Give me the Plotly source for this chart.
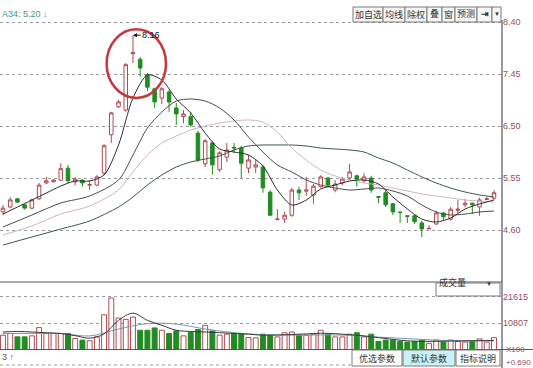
import plotly.graph_objects as go

W, H = 533, 368

# ---------------- data ----------------
opens = [4.93, 5.02, 5.17, 5.06, 5.00, 5.17, 5.46, 5.48, 5.51, 5.73, 5.48, 5.51, 5.42, 5.42, 5.64,
         6.34, 6.85, 6.79, 7.82, 7.72, 7.43, 7.18, 7.01, 7.12, 6.83, 6.67, 6.67, 6.37, 5.81, 6.19,
         5.70, 5.93, 6.11, 6.10, 5.73, 5.75, 5.75, 5.29, 4.79, 4.80, 4.87, 5.33, 5.31, 5.24, 5.39,
         5.55, 5.33, 5.46, 5.55, 5.59, 5.50, 5.55, 5.21, 5.28, 5.08, 4.93, 4.86, 4.86, 4.73, 4.62,
         4.71, 4.91, 4.80, 4.96, 5.06, 5.09, 5.02, 5.16, 5.18]
highs = [5.06, 5.20, 5.18, 5.08, 5.17, 5.46, 5.57, 5.53, 5.82, 5.79, 5.57, 5.53, 5.51, 5.60, 6.17,
         6.76, 6.98, 7.65, 8.16, 7.76, 7.47, 7.20, 7.21, 7.16, 6.92, 6.79, 6.76, 6.41, 6.26, 6.23,
         6.04, 6.19, 6.19, 6.14, 5.97, 5.88, 5.79, 5.33, 4.98, 4.93, 5.37, 5.39, 5.57, 5.44, 5.60,
         5.57, 5.51, 5.57, 5.81, 5.61, 5.64, 5.59, 5.21, 5.33, 5.09, 4.93, 4.86, 4.89, 4.77, 4.69,
         4.95, 4.93, 5.02, 5.15, 5.17, 5.10, 5.19, 5.20, 5.33]
lows = [4.87, 5.00, 5.09, 4.97, 4.98, 5.15, 5.44, 5.47, 5.50, 5.46, 5.42, 5.39, 5.33, 5.40, 5.60,
        6.19, 6.83, 6.76, 7.65, 7.40, 7.14, 6.83, 6.90, 6.76, 6.52, 6.55, 6.48, 5.84, 5.75, 5.61,
        5.66, 5.84, 6.01, 5.55, 5.64, 5.64, 5.28, 4.86, 4.78, 4.73, 4.84, 5.15, 5.22, 5.08, 5.37,
        5.39, 5.29, 5.42, 5.51, 5.39, 5.46, 5.28, 5.09, 5.02, 4.87, 4.73, 4.73, 4.71, 4.47, 4.62,
        4.69, 4.78, 4.77, 4.91, 5.02, 4.89, 4.86, 5.15, 5.15]
closes = [5.00, 5.15, 5.11, 5.00, 5.15, 5.42, 5.50, 5.51, 5.72, 5.50, 5.53, 5.46, 5.43, 5.57, 6.14,
          6.74, 6.94, 7.62, 7.84, 7.56, 7.21, 6.94, 7.18, 6.94, 6.72, 6.72, 6.52, 5.88, 6.23, 5.79,
          6.01, 6.06, 6.10, 5.82, 5.88, 5.79, 5.37, 4.87, 4.80, 4.87, 5.33, 5.28, 5.33, 5.40, 5.57,
          5.42, 5.44, 5.53, 5.66, 5.53, 5.57, 5.33, 5.20, 5.06, 4.93, 4.92, 4.85, 4.75, 4.62, 4.63,
          4.91, 4.84, 4.98, 4.98, 5.09, 5.06, 5.15, 5.17, 5.28]
volumes = [6000, 6670, 5330, 5330, 5730, 9070, 6670, 6670, 6670, 6670, 4670, 4000, 3730, 5330, 14270,
           21070, 12930, 12400, 13330, 8000, 8000, 8930, 8000, 6670, 7730, 5730, 7070, 8270, 10000, 7730,
           6000, 6400, 6670, 6670, 5070, 4930, 6400, 6000, 5300, 7000, 7300, 6000, 6000, 6400, 8000,
           6400, 5300, 5300, 6400, 7000, 5300, 6400, 3500, 4000, 4000, 3500, 3200, 3500, 4000, 2700,
           4000, 3200, 4000, 3500, 3200, 3500, 4500, 3200, 5000]

ma5_idx = list(range(0, 69, 2))
ma5 = [4.892, 5.020, 5.148, 5.276, 5.404, 5.495, 5.495, 5.605, 6.153, 7.012, 7.432, 7.340,
       6.993, 6.738, 6.372, 6.080, 6.025, 5.970, 5.769, 5.331, 5.057, 5.148, 5.349, 5.422,
       5.495, 5.514, 5.441, 5.203, 4.984, 4.801, 4.746, 4.819, 4.984, 5.075, 5.148]
ma_idx = [0, 4, 8, 12] + list(range(16, 69, 2))
ma10 = [4.655, 4.874, 5.093, 5.221, 5.514, 5.970, 6.464, 6.756, 6.957, 6.993, 6.957, 6.829,
        6.610, 6.299, 6.025, 5.788, 5.660, 5.514, 5.422, 5.367, 5.331, 5.349, 5.367, 5.313,
        5.221, 5.057, 4.929, 4.874, 4.892, 4.929, 4.947]
ma20 = [4.509, 4.673, 4.893, 5.039, 5.331, 5.660, 5.970, 6.190, 6.317, 6.427, 6.500, 6.555,
        6.591, 6.610, 6.573, 6.391, 6.098, 5.879, 5.696, 5.587, 5.514, 5.459, 5.422, 5.367,
        5.313, 5.258, 5.221, 5.185, 5.148, 5.130, 5.112]
ma60 = [4.326, 4.472, 4.618, 4.765, 5.020, 5.203, 5.422, 5.605, 5.751, 5.842, 5.897, 5.952,
        6.062, 6.135, 6.153, 6.153, 6.153, 6.135, 6.098, 6.080, 6.062, 6.025, 5.916, 5.824,
        5.696, 5.570, 5.459, 5.367, 5.294, 5.240, 5.203]

vma5_idx = list(range(0, 69, 2))
vol_ma5 = [7300, 7500, 7300, 7000, 6700, 5800, 4800, 6500, 12000, 14900, 12000, 10000, 8000,
           7500, 7300, 7000, 6700, 6400, 6000, 6100, 6300, 6500, 6800, 6600, 6200, 5700, 5000,
           4300, 3700, 3500, 3500, 3600, 3700, 3800, 3900]
vma10_idx = list(range(0, 69, 4))
vol_ma10 = [6700, 6700, 6700, 5700, 8500, 10700, 10500, 8500, 7000, 6200, 6000, 6100, 6000,
            5200, 4600, 4000, 3700, 3700]

price_ticks = [4.60, 5.55, 6.50, 7.45, 8.40]
vol_ticks = [10807, 21615]
peak_label = "8.16"

# ---------------- styles ----------------
UP = "#b04a4f"
DN = "#228b22"
LBL = "#9b4d5a"
FONT = "Liberation Sans, Noto Sans CJK SC, sans-serif"

idx = list(range(len(opens)))
fig = go.Figure()

# moving averages (price)
for xs, ys, col in [(ma_idx, ma60, "#3b5646"), (ma_idx, ma20, "#cfb3c3"),
                    (ma_idx, ma10, "#4a4a4a"), (ma5_idx, ma5, "#2e2e2e")]:
    fig.add_trace(go.Scatter(x=xs, y=ys, mode="lines", line=dict(color=col, width=1, shape="spline", smoothing=0.8),
                             xaxis="x", yaxis="y", hoverinfo="skip", showlegend=False))

fig.add_trace(go.Candlestick(
    x=idx, open=opens, high=highs, low=lows, close=closes,
    increasing=dict(line=dict(color=UP, width=1), fillcolor="white"),
    decreasing=dict(line=dict(color=DN, width=1), fillcolor=DN),
    whiskerwidth=0, xaxis="x", yaxis="y", showlegend=False, hoverinfo="skip"))

# volume
up_flags = [c >= o for o, c in zip(opens, closes)]
fig.add_trace(go.Bar(
    x=idx, y=volumes, width=0.68,
    marker=dict(color=["white" if u else DN for u in up_flags],
                line=dict(color=[UP if u else DN for u in up_flags], width=1)),
    xaxis="x2", yaxis="y2", showlegend=False, hoverinfo="skip"))
fig.add_trace(go.Scatter(x=vma10_idx, y=vol_ma10, mode="lines",
                         line=dict(color="#6a9fa5", width=1, shape="spline"),
                         xaxis="x2", yaxis="y2", hoverinfo="skip", showlegend=False))
fig.add_trace(go.Scatter(x=vma5_idx, y=vol_ma5, mode="lines",
                         line=dict(color="#3a3a3a", width=1, shape="spline"),
                         xaxis="x2", yaxis="y2", hoverinfo="skip", showlegend=False))

def px(x):
    return x / W

def py(y):
    return 1 - y / H

XR = [-0.4155, 69.11]
XD = [0, px(502)]
fig.update_layout(
    width=W, height=H, margin=dict(l=0, r=0, t=0, b=0),
    paper_bgcolor="white", plot_bgcolor="white", showlegend=False,
    font=dict(family=FONT, size=9, color="#333"),
    xaxis=dict(domain=XD, range=XR, showticklabels=False, showgrid=False, zeroline=False,
               rangeslider=dict(visible=False), fixedrange=True, anchor="y"),
    xaxis2=dict(domain=XD, range=XR, showticklabels=False, showgrid=False, zeroline=False,
                fixedrange=True, anchor="y2"),
    yaxis=dict(domain=[py(282), 1], range=[3.650, 8.802], side="right", anchor="x",
               tickvals=price_ticks, ticktext=[f"{v:.2f}" for v in price_ticks],
               showgrid=True, gridcolor="#9a9a9a", griddash="dot", gridwidth=1,
               zeroline=False, showline=False, ticks="", tickfont=dict(size=9, color=LBL, family=FONT)),
    yaxis2=dict(domain=[py(350), py(282)], range=[0, 27540], side="right", anchor="x2",
                tickvals=vol_ticks, ticktext=[str(v) for v in vol_ticks],
                showgrid=True, gridcolor="#9a9a9a", griddash="dot", gridwidth=1,
                zeroline=False, showline=False, ticks="", tickfont=dict(size=9, color=LBL, family=FONT)),
)

shapes = []
# frame lines
shapes.append(dict(type="line", xref="paper", yref="paper", x0=px(502), x1=px(502), y0=py(20), y1=0,
                   line=dict(color="#333", width=1)))
shapes.append(dict(type="line", xref="paper", yref="paper", x0=0, x1=px(502), y0=py(282), y1=py(282),
                   line=dict(color="#555", width=1)))
shapes.append(dict(type="line", xref="paper", yref="paper", x0=0, x1=1, y0=py(349.5), y1=py(349.5),
                   line=dict(color="#555", width=1)))
shapes.append(dict(type="line", xref="paper", yref="paper", x0=0, x1=px(502), y0=py(365), y1=py(365),
                   line=dict(color="#9a9a9a", width=1, dash="dot")))
# red circle around the peak
shapes.append(dict(type="circle", xref="x", yref="y", x0=14.35, x1=22.57, y0=7.012, y1=8.267,
                   line=dict(color="#c4383f", width=2.5)))

annotations = []

def button(x0, x1, y0, y1, text, fill="#f6f6f6", size=9, color="#333"):
    shapes.append(dict(type="rect", xref="paper", yref="paper", x0=px(x0), x1=px(x1), y0=py(y1), y1=py(y0),
                       line=dict(color="#7a7a7a", width=1), fillcolor=fill))
    annotations.append(dict(xref="paper", yref="paper", x=px((x0 + x1) / 2), y=py((y0 + y1) / 2),
                            text=text, showarrow=False, font=dict(size=size, color=color, family=FONT),
                            xanchor="center", yanchor="middle"))

# top toolbar
for x0, x1, t in [(353, 383, "加自选"), (383, 405, "均线"), (405, 427, "除权"), (427, 442, "叠"),
                  (442, 455, "窗"), (455, 477, "预测"), (477, 492, "<b>⇥</b>"), (492, 501, "▼")]:
    button(x0, x1, 7, 22, t, size=6 if t == "▼" else 9)

# volume selector
button(436, 500, 283, 296, "", fill="white")
annotations.append(dict(xref="paper", yref="paper", x=px(468), y=py(289.5), text="成交量", showarrow=False,
                        font=dict(size=9, color="#333", family=FONT)))
annotations.append(dict(xref="paper", yref="paper", x=px(494), y=py(289), text="▼", showarrow=False,
                        font=dict(size=6, color="#333", family=FONT)))

# bottom buttons
button(352, 402, 350, 366, "优选参数", fill="white")
button(403, 455, 350, 366, "默认参数", fill="#c8f1f8")
button(456, 500, 350, 366, "指标说明", fill="white")

# texts
annotations.append(dict(xref="paper", yref="paper", x=0, y=py(14), xanchor="left", yanchor="middle",
                        text="A34: 5.20 ↓", showarrow=False, font=dict(size=9, color="#3c9a8a", family=FONT)))
annotations.append(dict(xref="paper", yref="paper", x=0, y=py(357), xanchor="left", yanchor="middle",
                        text="3 <span style='color:#c0392b'>↑</span>", showarrow=False,
                        font=dict(size=9, color="#555", family=FONT)))
annotations.append(dict(xref="paper", yref="paper", x=px(504), y=py(349), xanchor="left", yanchor="middle",
                        text="X100", showarrow=False, font=dict(size=8, color=LBL, family=FONT)))
annotations.append(dict(xref="paper", yref="paper", x=px(504), y=py(362), xanchor="left", yanchor="middle",
                        text="+0.690", showarrow=False, font=dict(size=8, color=LBL, family=FONT)))
# peak label
peak_i = highs.index(max(highs))
annotations.append(dict(xref="x", yref="y", x=peak_i, y=max(highs), text=peak_label, showarrow=True,
                        ax=18, ay=0, arrowhead=2, arrowsize=0.8, arrowwidth=1, arrowcolor="#111",
                        font=dict(size=9, color="#111", family=FONT)))

fig.update_layout(shapes=shapes, annotations=annotations)
fig.write_html("out.html", config={"displayModeBar": False},
               post_script="document.body.style.margin='0';document.body.style.overflow='hidden';")
